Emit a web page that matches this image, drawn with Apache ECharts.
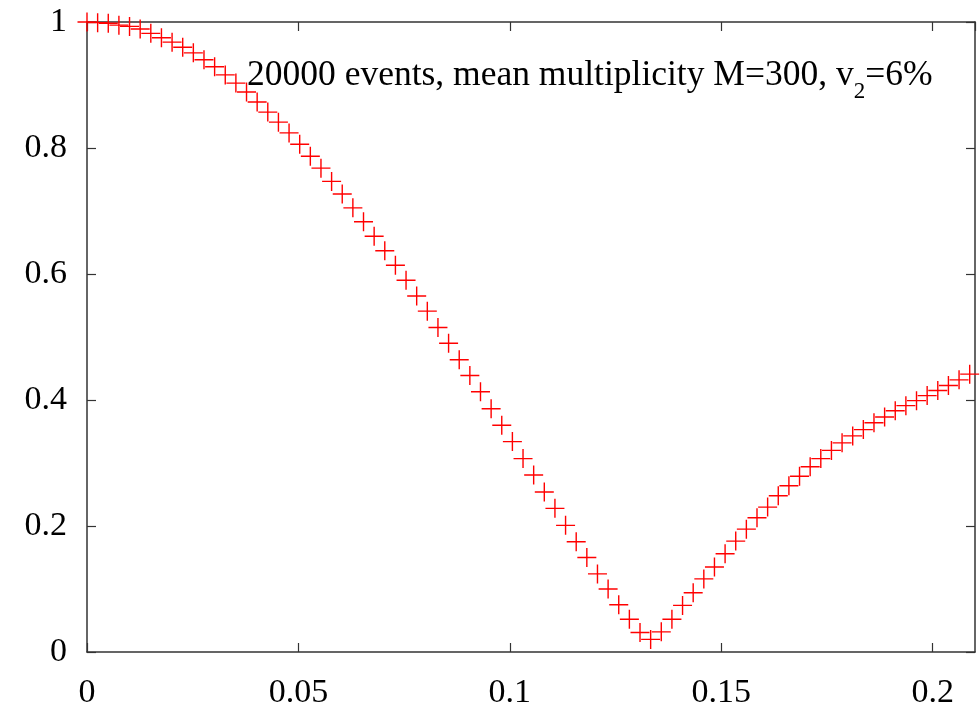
<!DOCTYPE html>
<html>
<head>
<meta charset="utf-8">
<script src="https://cdn.jsdelivr.net/npm/echarts@6/dist/echarts.min.js"></script>
<style>
    html, body { margin: 0; padding: 0; background: #fff; }
    #chart { width: 980px; height: 710px; }
</style>
</head>
<body>
<div id="chart"></div>
<script>
var rStep = 0.002515;
// |G(r)|, one value per marker
var gValues = [
    1.000, 0.999, 0.998, 0.995, 0.993, 0.989, 0.982, 0.975, 0.968, 0.960,
    0.951, 0.940, 0.929, 0.916, 0.903, 0.889, 0.873, 0.857, 0.841, 0.824,
    0.806, 0.787, 0.768, 0.747, 0.727, 0.705, 0.683, 0.660, 0.637, 0.614,
    0.590, 0.565, 0.541, 0.515, 0.490, 0.464, 0.439, 0.413, 0.386, 0.360,
    0.334, 0.307, 0.281, 0.254, 0.228, 0.201, 0.175, 0.150, 0.124, 0.100,
    0.075, 0.052, 0.031, 0.020, 0.032, 0.052, 0.074, 0.094, 0.116, 0.135,
    0.156, 0.176, 0.195, 0.213, 0.230, 0.248, 0.264, 0.279, 0.294, 0.307,
    0.320, 0.332, 0.343, 0.353, 0.364, 0.373, 0.383, 0.391, 0.399, 0.407,
    0.415, 0.423, 0.432, 0.441
];
var xTicks = [0, 0.05, 0.1, 0.15, 0.2];
var yTicks = [0, 0.2, 0.4, 0.6, 0.8, 1];
var xRange = [0, 0.21];
var yRange = [0, 1];

var points = [];
for (var i = 0; i < gValues.length; i++) {
    points.push([i * rStep, gValues[i]]);
}

var serif = 'Liberation Serif';
var plusPath = 'path://M8.8,0H10.2V8.8H19V10.2H10.2V19H8.8V10.2H0V8.8H8.8Z';

function makeAxis(pos, ticks, range, labels) {
    return {
        type: 'value',
        position: pos,
        min: range[0],
        max: range[1],
        interval: ticks[1] - ticks[0],
        splitLine: { show: false },
        axisLine: { show: true, onZero: false, lineStyle: { color: '#333', width: 1.5 } },
        axisTick: { show: true, inside: true, length: 9, lineStyle: { color: '#333', width: 1.2 } },
        axisLabel: {
            show: labels,
            showMaxLabel: pos === 'bottom' ? false : true,
            margin: pos === 'bottom' ? 24 : 20,
            color: '#000',
            fontFamily: serif,
            fontSize: 34
        }
    };
}

var chart = echarts.init(document.getElementById('chart'));
chart.setOption({
    animation: false,
    grid: { left: 87, right: 5, top: 22, bottom: 51 },
    xAxis: [
        makeAxis('bottom', xTicks, xRange, true),
        makeAxis('top', xTicks, xRange, false)
    ],
    yAxis: [
        makeAxis('left', yTicks, yRange, true),
        makeAxis('right', yTicks, yRange, false)
    ],
    graphic: [{
        type: 'text',
        left: 247,
        top: 58,
        z: 10,
        style: {
            text: '{a|20000 events, mean multiplicity M=300, v}{s|2}{a|=6%}',
            fill: '#000',
            rich: {
                a: { fontFamily: serif, fontSize: 35.5, lineHeight: 40, verticalAlign: 'top' },
                // subscript pushed down with top padding
                s: { fontFamily: serif, fontSize: 23, lineHeight: 22, verticalAlign: 'top', padding: [22, 0, 0, 0] }
            }
        }
    }],
    series: [{
        type: 'scatter',
        xAxisIndex: 0,
        yAxisIndex: 0,
        symbol: plusPath,
        symbolSize: 19,
        itemStyle: { color: '#ff0000', opacity: 1 },
        clip: false,
        data: points
    }]
});
</script>
</body>
</html>
